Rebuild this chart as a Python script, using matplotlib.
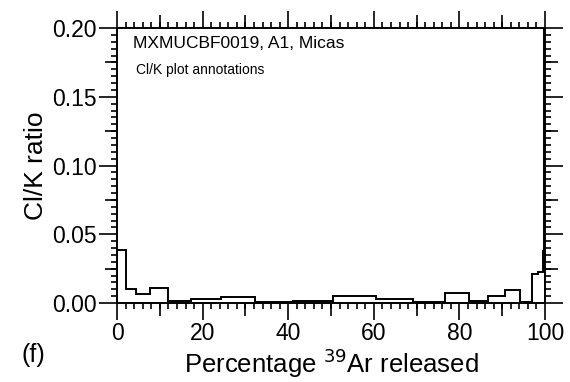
import matplotlib
matplotlib.use("Agg")
import matplotlib.pyplot as plt
import numpy as np

plt.rcParams["font.family"] = ["Liberation Sans", "DejaVu Sans"]

# step edges (% 39Ar released) and Cl/K value of each step
edges = [0, 2.1, 4.4, 7.6, 12.0, 17.4, 24.2, 32.2, 41.2, 50.5, 60.5,
         69.2, 76.6, 82.3, 86.6, 90.7, 94.2, 96.9, 98.4, 99.5, 99.8, 100]
clk = [0.0385, 0.010, 0.0063, 0.0107, 0.0015, 0.0027, 0.0044, 0.001,
       0.0017, 0.005, 0.0028, 0.0005, 0.0075, 0.0015, 0.0051, 0.0095,
       0.0005, 0.021, 0.0228, 0.038, 0.35]

xticks = [0, 20, 40, 60, 80, 100]
yticks = [0.00, 0.05, 0.10, 0.15, 0.20]

title = "MXMUCBF0019, A1, Micas"
subtitle = "Cl/K plot annotations"

fig = plt.figure(figsize=(5.7, 3.82), dpi=100)
ax = fig.add_axes([0.2053, 0.2068, 0.7509, 0.7199])

ax.stairs(clk, edges, baseline=0, color="black", lw=1.4)

ax.set_xlim(0, 100)
ax.set_ylim(0, 0.20)
ax.set_xticks(xticks)
ax.set_yticks(yticks)
ax.set_yticklabels([f"{v:.2f}" for v in yticks])
ax.set_xticks(np.arange(0, 101, 2), minor=True)
ax.set_yticks(np.arange(0, 0.2001, 0.005), minor=True)

for s in ax.spines.values():
    s.set_linewidth(1.4)

ax.tick_params(which="both", direction="out", width=1.2, top=True, right=True,
               labelsize=16.5, pad=1.5)
ax.tick_params(axis="x", which="major", length=12)
ax.tick_params(axis="y", which="major", length=13)
ax.tick_params(which="minor", length=4.3)

# medium ticks (every 10 on x, odd 0.025 on y)
for side in ("bottom", "top"):
    sec = ax.secondary_xaxis(side)
    sec.set_xticks([10, 30, 50, 70, 90])
    sec.tick_params(direction="out", length=9.5, width=1.2,
                    labelbottom=False, labeltop=False)
    sec.spines[side].set_visible(False)
for side in ("left", "right"):
    sec = ax.secondary_yaxis(side)
    sec.set_yticks([0.025, 0.075, 0.125, 0.175])
    sec.tick_params(direction="out", length=9, width=1.2,
                    labelleft=False, labelright=False)
    sec.spines[side].set_visible(False)

ax.set_xlabel("Percentage $^{39}$Ar released", fontsize=18.5, labelpad=1)
ax.set_ylabel("Cl/K ratio", fontsize=19, labelpad=3)

ax.text(0.037, 0.972, title, transform=ax.transAxes, fontsize=12.5, va="top")
ax.text(0.044, 0.872, subtitle, transform=ax.transAxes, fontsize=10, va="top")

fig.text(0.058, 0.07, "(f)", fontsize=18, ha="center", va="center")

fig.savefig("out.png", dpi=100)
